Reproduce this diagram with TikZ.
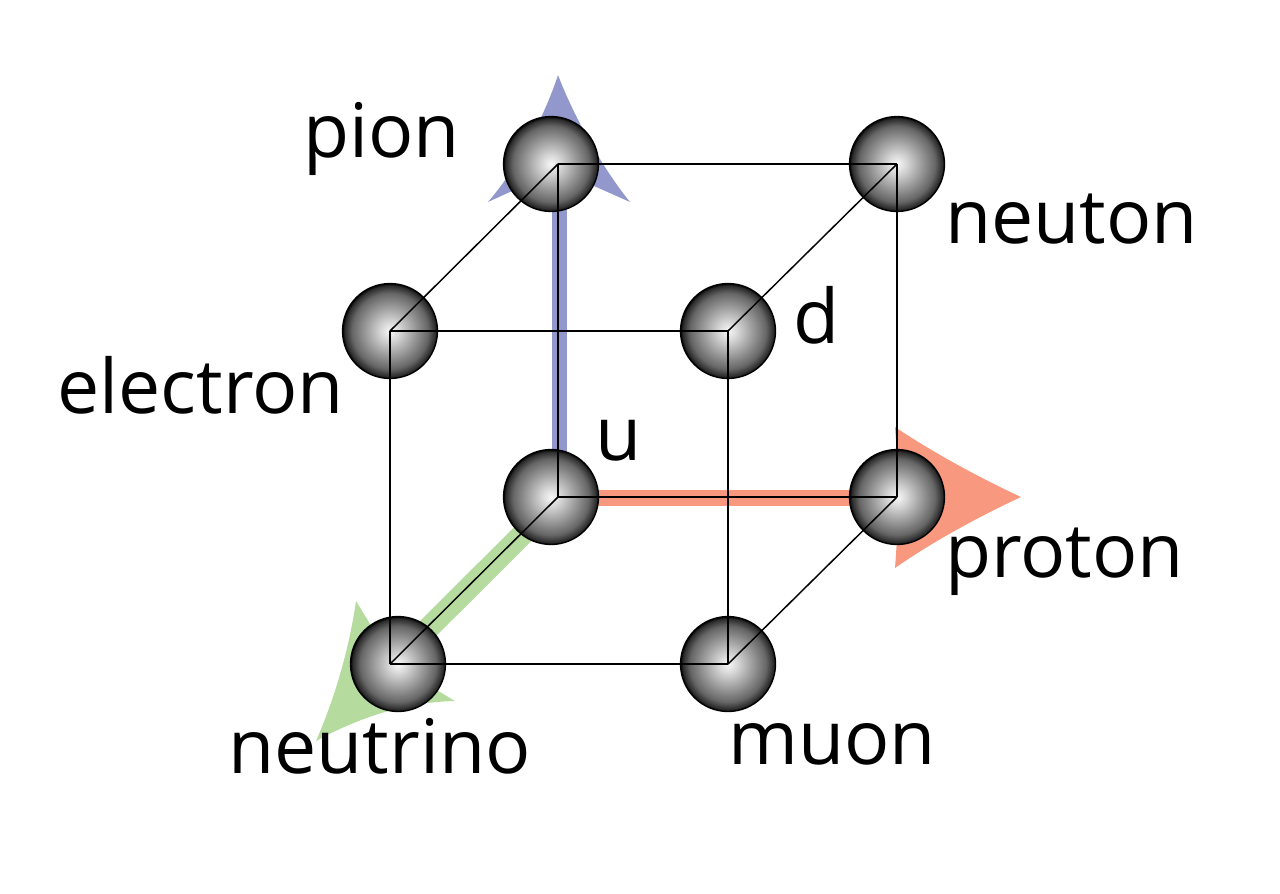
\documentclass[tikz,border=0pt]{standalone}
\usepackage{fontspec}
\setmainfont{Open Sans}
\pgfdeclareradialshading{ballshade}{\pgfpoint{0bp}{0bp}}{%
  color(0bp)=(black!3);
  color(5bp)=(black!16);
  color(12.5bp)=(black!38);
  color(20bp)=(black!60);
  color(24bp)=(black!84);
  color(25bp)=(black);
  color(50bp)=(black)}
\definecolor{bluearrow}{HTML}{9298CB}
\definecolor{greenarrow}{HTML}{B5DB9E}
\definecolor{redarrow}{HTML}{F7987F}
\tikzset{
  x=0.75pt, y=-0.75pt,
  ball/.style={circle, draw=black, line width=1pt, minimum size=71.25pt, inner sep=0pt, shading=ballshade},
  edge/.style={draw=black, line width=1.1pt},
  lab/.style={anchor=base west, inner sep=0pt, font=\fontsize{56.4pt}{60pt}\selectfont, text=black},
}
\begin{document}
\begin{tikzpicture}
\useasboundingbox (0,0) rectangle (1280,893);
% cube corners
\coordinate (ctl) at (558,164);
\coordinate (ctr) at (897,164);
\coordinate (cfl) at (390,331);
\coordinate (cfr) at (728,331);
\coordinate (cbl) at (558,497);
\coordinate (cbr) at (897,497);
\coordinate (cdl) at (390,664);
\coordinate (cdr) at (728,664);
% axis shafts
\coordinate (sb0) at (559.5,497);
\coordinate (sb1) at (559.5,164);
\coordinate (sr0) at (551,498);
\coordinate (sr1) at (897,498);
\coordinate (sg0) at (559,498);
\coordinate (sg1) at (391,665.5);
\draw[bluearrow, line width=11.25pt] (sb0) -- (sb1);
\draw[redarrow, line width=11.8pt] (sr0) -- (sr1);
\draw[greenarrow, line width=16.5pt] (sg0) -- (sg1);
% arrow heads
\fill[bluearrow] (558,75) .. controls (546,112) and (520,165) .. (488,202)
  -- (558,170) -- (630,202) .. controls (600,165) and (572,112) .. (558,75) -- cycle;
\fill[redarrow] (1021,497) .. controls (980,478) and (932,452) .. (895,427)
  -- (900,497) -- (895,568) .. controls (932,542) and (980,516) .. (1021,497) -- cycle;
\fill[greenarrow] (316,741) .. controls (334,700) and (349,650) .. (356,601)
  -- (395,665) -- (455,701) .. controls (405,702) and (358,718) .. (316,741) -- cycle;
% spheres
\node[ball] (pionball) at (551,164) {};
\node[ball] (neutonball) at (897,164) {};
\node[ball] (electronball) at (390,331) {};
\node[ball] (dball) at (728,331) {};
\node[ball] (uball) at (551,497) {};
\node[ball] (protonball) at (897,497) {};
\node[ball] (neutrinoball) at (398,664) {};
\node[ball] (muonball) at (728,664) {};
% cube edges
\draw[edge] (ctl) -- (ctr);
\draw[edge] (ctl) -- (cfl);
\draw[edge] (ctl) -- (cbl);
\draw[edge] (ctr) -- (cfr);
\draw[edge] (ctr) -- (cbr);
\draw[edge] (cfl) -- (cfr);
\draw[edge] (cfl) -- (cdl);
\draw[edge] (cfr) -- (cdr);
\draw[edge] (cbl) -- (cbr);
\draw[edge] (cbl) -- (cdl);
\draw[edge] (cbr) -- (cdr);
\draw[edge] (cdl) -- (cdr);
% labels
\node[lab] (lpion) at (303,157) {pion};
\node[lab] (lneuton) at (945,243) {neuton};
\node[lab] (ld) at (793,343) {d};
\node[lab] (lelectron) at (57,413) {electron};
\node[lab] (lu) at (595,460) {u};
\node[lab] (lproton) at (945,577) {proton};
\node[lab] (lneutrino) at (228,773) {neutrino};
\node[lab] (lmuon) at (728,764) {muon};
\end{tikzpicture}
\end{document}
